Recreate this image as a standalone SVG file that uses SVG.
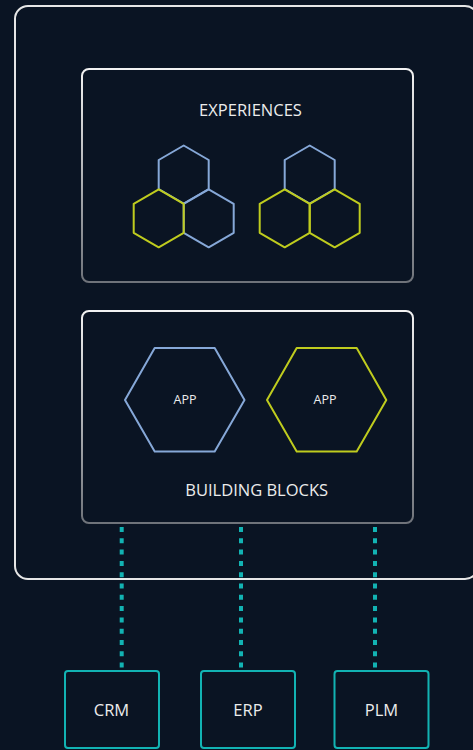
<svg xmlns="http://www.w3.org/2000/svg" width="473" height="750" viewBox="0 0 473 750">
<defs>
<linearGradient id="boxg" x1="0" y1="0" x2="0" y2="1">
<stop offset="0" stop-color="#f2f2f2"/>
<stop offset="1" stop-color="#6f737a"/>
</linearGradient>
<style>
.lbl{font-family:"Open Sans","Liberation Sans",sans-serif;fill:#ececec;text-anchor:middle;font-weight:500}
.box{fill:none;stroke:url(#boxg);stroke-width:2}
.blue{fill:none;stroke:#86a8d8;stroke-width:2;stroke-linejoin:round}
.lime{fill:none;stroke:#bfcc1e;stroke-width:2;stroke-linejoin:round}
.sys{fill:#0a1423;stroke:#12b3b3;stroke-width:2}
.dot{stroke:#12b3b3;stroke-width:4;stroke-dasharray:5 6.3}
</style>
</defs>
<rect width="473" height="750" fill="#0a1423"/>
<g id="platform">
<rect x="15" y="6" width="463" height="573" rx="13" fill="none" stroke="#e6e6e6" stroke-width="2"/>
</g>
<g id="connectors">
<line class="dot" x1="121.7" y1="527" x2="121.7" y2="668"/>
<line class="dot" x1="241" y1="527" x2="241" y2="668"/>
<line class="dot" x1="375" y1="527" x2="375" y2="668"/>
</g>
<g id="experiences">
<rect class="box" x="82" y="69" width="331" height="213" rx="7"/>
<text class="lbl" x="250.5" y="116" font-size="16.5">EXPERIENCES</text>
<g id="exp-hex-left">
<polygon class="blue" points="183.7,145.5 208.7,160 208.7,189 183.7,203.5 158.7,189 158.7,160"/>
<polygon class="blue" points="208.7,189.3 233.7,203.8 233.7,232.8 208.7,247.3 183.7,232.8 183.7,203.8"/>
<polygon class="lime" points="158.7,189.3 183.7,203.8 183.7,232.8 158.7,247.3 133.7,232.8 133.7,203.8"/>
</g>
<g id="exp-hex-right">
<polygon class="blue" points="309.7,145.5 334.7,160 334.7,189 309.7,203.5 284.7,189 284.7,160"/>
<polygon class="lime" points="284.7,189.3 309.7,203.8 309.7,232.8 284.7,247.3 259.7,232.8 259.7,203.8"/>
<polygon class="lime" points="334.7,189.3 359.7,203.8 359.7,232.8 334.7,247.3 309.7,232.8 309.7,203.8"/>
</g>
</g>
<g id="building-blocks">
<rect class="box" x="82" y="311" width="331" height="212" rx="7"/>
<text class="lbl" x="256.7" y="496" font-size="16.5">BUILDING BLOCKS</text>
</g>
<g id="app1">
<polygon class="blue" points="125,400 154.7,348 214.7,348 244.5,400 214.7,451.5 154.7,451.5"/>
<text class="lbl" x="185" y="404" font-size="12.5">APP</text>
</g>
<g id="app2">
<polygon class="lime" points="267,400 296.7,348 356.7,348 386.3,400 356.7,451.5 296.7,451.5"/>
<text class="lbl" x="325" y="404" font-size="12.5">APP</text>
</g>
<g id="crm">
<rect class="sys" x="65" y="671" width="94" height="77" rx="3"/>
<text class="lbl" x="111.5" y="715.5" font-size="16.5">CRM</text>
</g>
<g id="erp">
<rect class="sys" x="201" y="671" width="94" height="77" rx="3"/>
<text class="lbl" x="248" y="715.5" font-size="16.5">ERP</text>
</g>
<g id="plm">
<rect class="sys" x="334.5" y="671" width="94" height="77" rx="3"/>
<text class="lbl" x="381.5" y="715.5" font-size="16.5">PLM</text>
</g>
</svg>
